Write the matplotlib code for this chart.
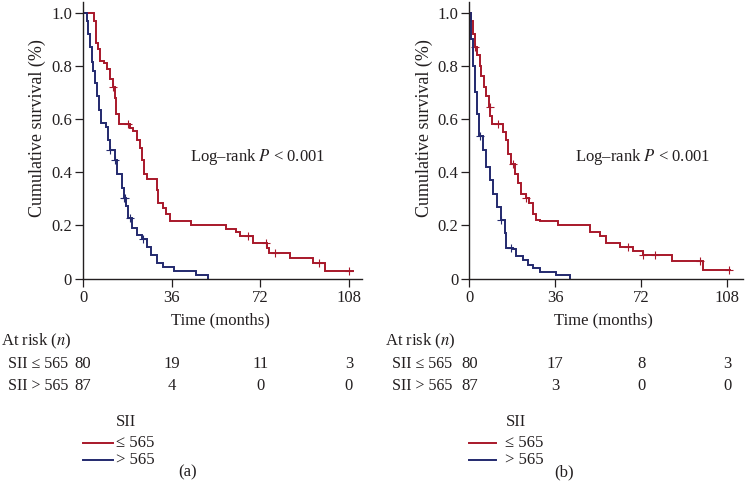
import numpy as np
import matplotlib
matplotlib.use("Agg")
import matplotlib.pyplot as plt
import matplotlib.transforms as mtransforms

plt.rcParams['font.family'] = ['Liberation Serif', 'DejaVu Serif']
plt.rcParams['mathtext.fontset'] = 'stix'

# ---- data ----
xticks = [0, 36, 72, 108]
yticks = [0, 0.2, 0.4, 0.6, 0.8, 1.0]
ytick_labels = ['0', '0.2', '0.4', '0.6', '0.8', '1.0']
group_labels = ['\u2264 565', '> 565']
risk_labels = ['SII \u2264 565', 'SII > 565']

# panel (a)
a_low_t = [0, 4.5, 5.3, 6.2, 6.9, 8.6, 9.6, 10.9, 12.3, 13.0, 13.6, 14.6, 19.0, 20.4, 21.8, 23.1,
           23.8, 24.7, 25.8, 29.9, 30.5, 32.6, 33.9, 35.3, 44.0, 58.0, 62.0, 63.7, 68.9, 74.6,
           75.5, 84.0, 93.3, 98.3]
a_low_s = [1.0, 0.97, 0.885, 0.865, 0.82, 0.81, 0.79, 0.75, 0.72, 0.68, 0.62, 0.58, 0.565, 0.555,
           0.52, 0.49, 0.445, 0.395, 0.375, 0.335, 0.285, 0.265, 0.245, 0.218, 0.202, 0.187, 0.175,
           0.16, 0.133, 0.114, 0.098, 0.077, 0.058, 0.03]
a_low_end = 109.5
a_low_cens = [12.3, 18.4, 67.0, 74.5, 77.8, 96.0, 108.2]

a_high_t = [0, 1.5, 2.2, 2.8, 3.5, 4.2, 4.9, 5.8, 6.6, 7.3, 9.3, 10.0, 10.9, 13.0, 13.9, 15.7, 16.6,
            17.4, 18.1, 19.7, 21.8, 23.8, 25.8, 27.8, 29.9, 32.6, 37.0, 46.1, 50.8]
a_high_s = [1.0, 0.97, 0.92, 0.87, 0.815, 0.78, 0.735, 0.685, 0.635, 0.585, 0.57, 0.52, 0.485, 0.445,
            0.395, 0.34, 0.305, 0.275, 0.23, 0.19, 0.165, 0.15, 0.12, 0.09, 0.06, 0.045, 0.03, 0.014, 0.0]
a_high_end = 50.8
a_high_cens = [10.9, 13.0, 16.6, 17.0, 19.0, 24.5]

a_risk_low = [80, 19, 11, 3]
a_risk_high = [87, 4, 0, 0]

# panel (b)
b_low_t = [0, 0.8, 1.5, 2.2, 3.2, 4.3, 5.0, 6.1, 7.1, 8.2, 8.8, 9.5, 14.1, 15.2, 16.2, 17.6, 19.0,
           20.4, 21.8, 23.9, 25.0, 26.7, 28.1, 29.5, 37.2, 50.6, 54.8, 57.3, 63.2, 68.6, 72.8, 84.8, 98.0]
b_low_s = [1.0, 0.97, 0.92, 0.87, 0.84, 0.8, 0.76, 0.72, 0.685, 0.645, 0.61, 0.58, 0.55, 0.52, 0.47,
           0.43, 0.395, 0.36, 0.32, 0.305, 0.285, 0.245, 0.22, 0.215, 0.202, 0.177, 0.16, 0.135, 0.12,
           0.105, 0.09, 0.068, 0.033]
b_low_end = 109.3
b_low_cens = [2.2, 8.5, 12.0, 18.3, 23.9, 66.5, 72.8, 77.7, 96.5, 108.8]

b_high_t = [0, 0.8, 1.5, 2.2, 3.2, 4.1, 5.7, 7.1, 8.5, 9.9, 11.6, 13.4, 14.8, 15.5, 18.3, 19.7, 22.5,
            24.6, 26.7, 29.5, 36.5, 42.0]
b_high_s = [1.0, 0.9, 0.8, 0.7, 0.62, 0.535, 0.485, 0.42, 0.37, 0.32, 0.27, 0.22, 0.17, 0.115, 0.11,
            0.085, 0.07, 0.05, 0.04, 0.025, 0.013, 0.0]
b_high_end = 42.0
b_high_cens = [4.3, 13.4, 17.6]

b_risk_low = [80, 17, 8, 3]
b_risk_high = [87, 3, 0, 0]

RED = '#a8182a'
BLUE = '#23296e'
TXT = '#231f20'
FS = 12

W, H = 746, 499
fig = plt.figure(figsize=(W / 100, H / 100), dpi=100)


def px(x, y):
    # pixel position -> figure fraction
    return x / W, 1 - y / H


def km(ax, t, s, end, cens, color):
    tt = list(t) + [end]
    ss = list(s) + [s[-1]]
    ax.step(tt, ss, where='post', color=color, lw=1.4, solid_joinstyle='miter')
    cens = np.array(cens)
    idx = np.searchsorted(np.array(t), cens, side='right') - 1
    ax.plot(cens, np.array(s)[idx], ls='none', marker='+', ms=5.5, mew=0.8, color=color)


def panel(left, right, xmax, curves, risk, logx, letter, letter_x,
          ylab_x, risk_x, riskname_x, leg_line, leg_x, time_x):
    l0, b0 = px(left, 278.7)
    ax = fig.add_axes([l0, b0, (right - left) / W, (278.7 - 2) / H])
    for c in curves:
        km(ax, *c)
    ax.set_xlim(0, xmax)
    ax.set_ylim(0, 1.04)
    ax.set_xticks(xticks)
    ax.set_yticks(yticks)
    ax.set_yticklabels(ytick_labels)
    ax.tick_params(direction='out', length=6, width=0.9, colors=TXT, labelsize=FS, pad=2)
    for sp in ['top', 'right']:
        ax.spines[sp].set_visible(False)
    for sp in ['left', 'bottom']:
        ax.spines[sp].set_linewidth(1.0)
        ax.spines[sp].set_color(TXT)
    ax.text(logx, 0.459, 'Log\u2013rank $P$ < 0.001', fontsize=FS, color=TXT, va='center', ha='left')
    fig.text(*px(ylab_x, 128), 'Cumulative survival (%)', rotation=90, fontsize=13, color=TXT,
             ha='center', va='center')

    fig.text(*px(time_x, 320.5), 'Time (months)', fontsize=FS, color=TXT, ha='center', va='center')
    fig.text(*px(risk_x, 341), 'At risk ($n$)', fontsize=FS, color=TXT, ha='left', va='center')
    trans = mtransforms.blended_transform_factory(ax.transData, fig.transFigure)
    for row, (lab, vals) in enumerate(zip(risk_labels, risk)):
        yy = px(0, 363.5 + 23 * row)[1]
        fig.text(px(riskname_x, 0)[0], yy, lab, fontsize=11.5, color=TXT, ha='left', va='center')
        for xv, v in zip(xticks, vals):
            ax.text(xv, yy, str(v), transform=trans, fontsize=FS, color=TXT, ha='center', va='center')

    # legend
    fig.text(*px(leg_x, 421.5), 'SII', fontsize=FS, color=TXT, ha='left', va='center')
    for i, (lab, col) in enumerate(zip(group_labels, [RED, BLUE])):
        yy = 443 + 17 * i
        fig.add_artist(plt.Line2D([leg_line[0] / W, leg_line[1] / W], [1 - yy / H] * 2,
                                  color=col, lw=1.4))
        fig.text(*px(leg_x, yy), lab, fontsize=FS, color=TXT, ha='left', va='center')
    fig.text(*px(letter_x, 472.5), letter, fontsize=FS, color=TXT, ha='center', va='center')
    return ax


panel(83, 361.7, 113.2,
      [(a_low_t, a_low_s, a_low_end, a_low_cens, RED),
       (a_high_t, a_high_s, a_high_end, a_high_cens, BLUE)],
      [a_risk_low, a_risk_high], 43.4, '(a)', 188, 37.7, 1, 8, (83, 113), 116, 220)

panel(469.3, 743, 114.7,
      [(b_low_t, b_low_s, b_low_end, b_low_cens, RED),
       (b_high_t, b_high_s, b_high_end, b_high_cens, BLUE)],
      [b_risk_low, b_risk_high], 44.2, '(b)', 564, 424.7, 385.5, 392.5, (469, 496), 505.5, 603)

fig.savefig('out.png', dpi=100)
